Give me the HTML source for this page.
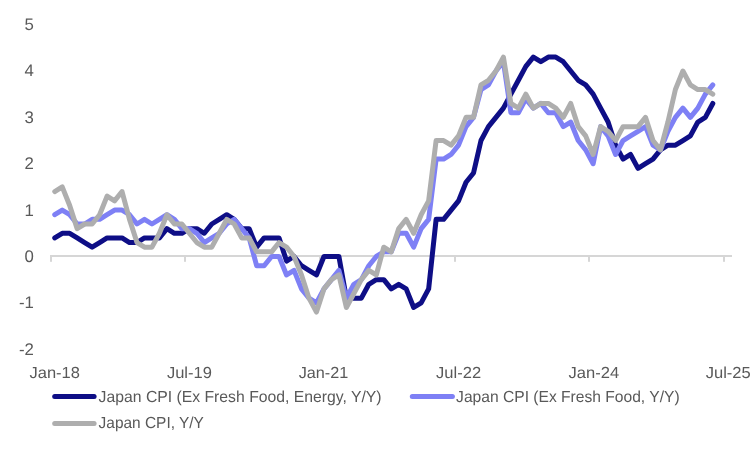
<!DOCTYPE html>
<html lang="en">
<head>
<meta charset="utf-8">
<title>Japan CPI</title>
<style>
html,body{margin:0;padding:0;background:#fff;}
body{width:750px;height:450px;overflow:hidden;}
#chart{width:750px;height:450px;will-change:transform;}
svg{display:block;}
text{text-rendering:geometricPrecision;}
</style>
</head>
<body>
<div id="chart">
<svg width="750" height="450" viewBox="0 0 750 450">
<rect width="750" height="450" fill="#ffffff"/>
<g fill="#d6d6d6">
<rect x="50" y="255" width="682" height="2"/>
<rect x="50" y="257" width="2" height="4.8"/>
<rect x="184" y="257" width="2" height="4.8"/>
<rect x="319" y="257" width="2" height="4.8"/>
<rect x="454" y="257" width="2" height="4.8"/>
<rect x="588" y="257" width="2" height="4.8"/>
<rect x="723" y="257" width="2" height="4.8"/>
</g>
<g font-family="'Liberation Sans', sans-serif" font-size="16.8" fill="#595959" text-anchor="end">
<text x="33.9" y="29.85">5</text>
<text x="33.9" y="76.29">4</text>
<text x="33.9" y="122.73">3</text>
<text x="33.9" y="169.17">2</text>
<text x="33.9" y="215.61">1</text>
<text x="33.9" y="262.05">0</text>
<text x="33.9" y="308.49">-1</text>
<text x="33.9" y="354.93">-2</text>
</g>
<g font-family="'Liberation Sans', sans-serif" font-size="16" fill="#595959">
<text x="29.5" y="378.4" textLength="50.4" lengthAdjust="spacingAndGlyphs">Jan-18</text>
<text x="166.9" y="378.4" textLength="45.0" lengthAdjust="spacingAndGlyphs">Jul-19</text>
<text x="298.7" y="378.4" textLength="49.6" lengthAdjust="spacingAndGlyphs">Jan-21</text>
<text x="436.1" y="378.4" textLength="45.0" lengthAdjust="spacingAndGlyphs">Jul-22</text>
<text x="568.6" y="378.4" textLength="50.6" lengthAdjust="spacingAndGlyphs">Jan-24</text>
<text x="705.7" y="378.4" textLength="45.0" lengthAdjust="spacingAndGlyphs">Jul-25</text>
</g>
<g fill="none" stroke-width="5.0" stroke-linejoin="round" stroke-linecap="round">
<polyline stroke="#0e0e86" points="54.74,237.91 62.22,233.27 69.69,233.27 77.17,237.91 84.65,242.54 92.13,247.18 99.61,242.54 107.09,237.91 114.56,237.91 122.04,237.91 129.52,242.54 137.00,242.54 144.47,237.91 151.95,237.91 159.43,237.91 166.91,228.63 174.39,233.27 181.87,233.27 189.34,228.63 196.82,228.63 204.30,233.27 211.78,224.00 219.25,219.36 226.73,214.73 234.21,219.36 241.69,228.63 249.17,228.63 256.64,247.18 264.12,237.91 271.60,237.91 279.08,237.91 286.56,261.09 294.03,256.45 301.51,265.72 308.99,270.36 316.47,274.99 323.95,256.45 331.43,256.45 338.90,256.45 346.38,298.17 353.86,298.17 361.34,298.17 368.81,284.27 376.29,279.63 383.77,279.63 391.25,288.90 398.73,284.27 406.20,288.90 413.68,307.45 421.16,302.81 428.64,288.90 436.12,219.36 443.59,219.36 451.07,210.09 458.55,200.82 466.03,182.27 473.51,173.00 480.99,140.55 488.46,126.64 495.94,117.37 503.42,108.10 510.90,94.19 518.38,80.28 525.85,66.37 533.33,57.10 540.81,61.74 548.29,57.10 555.76,57.10 563.24,61.74 570.72,71.01 578.20,80.28 585.68,84.92 593.15,94.19 600.63,108.10 608.11,122.01 615.59,145.19 623.07,159.09 630.54,154.46 638.02,168.37 645.50,163.73 652.98,159.09 660.46,149.82 667.93,145.19 675.41,145.19 682.89,140.55 690.37,135.91 697.85,122.01 705.32,117.37 712.80,103.46"/>
<polyline stroke="#7e80f5" points="54.74,214.73 62.22,210.09 69.69,214.73 77.17,224.00 84.65,224.00 92.13,219.36 99.61,219.36 107.09,214.73 114.56,210.09 122.04,210.09 129.52,214.73 137.00,224.00 144.47,219.36 151.95,224.00 159.43,219.36 166.91,214.73 174.39,219.36 181.87,228.63 189.34,228.63 196.82,233.27 204.30,242.54 211.78,237.91 219.25,233.27 226.73,224.00 234.21,219.36 241.69,228.63 249.17,237.91 256.64,265.72 264.12,265.72 271.60,256.45 279.08,256.45 286.56,274.99 294.03,270.36 301.51,288.90 308.99,298.17 316.47,302.81 323.95,288.90 331.43,279.63 338.90,270.36 346.38,298.17 353.86,284.27 361.34,279.63 368.81,265.72 376.29,256.45 383.77,251.81 391.25,251.81 398.73,233.27 406.20,233.27 413.68,247.18 421.16,228.63 428.64,219.36 436.12,159.09 443.59,159.09 451.07,154.46 458.55,145.19 466.03,126.64 473.51,117.37 480.99,89.55 488.46,84.92 495.94,71.01 503.42,61.74 510.90,112.73 518.38,112.73 525.85,98.83 533.33,108.10 540.81,103.46 548.29,112.73 555.76,112.73 563.24,126.64 570.72,122.01 578.20,140.55 585.68,149.82 593.15,163.73 600.63,126.64 608.11,135.91 615.59,154.46 623.07,140.55 630.54,135.91 638.02,131.28 645.50,126.64 652.98,145.19 660.46,149.82 667.93,131.28 675.41,117.37 682.89,108.10 690.37,117.37 697.85,108.10 705.32,94.19 712.80,84.92"/>
<polyline stroke="#aeaeae" points="54.74,191.55 62.22,186.91 69.69,205.45 77.17,228.63 84.65,224.00 92.13,224.00 99.61,214.73 107.09,196.18 114.56,200.82 122.04,191.55 129.52,219.36 137.00,242.54 144.47,247.18 151.95,247.18 159.43,233.27 166.91,214.73 174.39,224.00 181.87,224.00 189.34,233.27 196.82,242.54 204.30,247.18 211.78,247.18 219.25,233.27 226.73,219.36 234.21,224.00 241.69,237.91 249.17,237.91 256.64,251.81 264.12,251.81 271.60,251.81 279.08,242.54 286.56,247.18 294.03,256.45 301.51,274.99 308.99,298.17 316.47,312.08 323.95,288.90 331.43,279.63 338.90,274.99 346.38,307.45 353.86,293.54 361.34,279.63 368.81,270.36 376.29,274.99 383.77,247.18 391.25,251.81 398.73,228.63 406.20,219.36 413.68,233.27 421.16,214.73 428.64,200.82 436.12,140.55 443.59,140.55 451.07,145.19 458.55,135.91 466.03,117.37 473.51,117.37 480.99,84.92 488.46,80.28 495.94,71.01 503.42,57.10 510.90,103.46 518.38,108.10 525.85,94.19 533.33,108.10 540.81,103.46 548.29,103.46 555.76,108.10 563.24,117.37 570.72,103.46 578.20,126.64 585.68,135.91 593.15,154.46 600.63,126.64 608.11,131.28 615.59,140.55 623.07,126.64 630.54,126.64 638.02,126.64 645.50,117.37 652.98,140.55 660.46,149.82 667.93,122.01 675.41,89.55 682.89,71.01 690.37,84.92 697.85,89.55 705.32,89.55 712.80,94.19"/>
<line stroke="#0e0e86" x1="54.7" y1="396.5" x2="94.1" y2="396.5"/>
<line stroke="#7e80f5" x1="412.3" y1="396.5" x2="452.4" y2="396.5"/>
<line stroke="#aeaeae" x1="54.7" y1="423.5" x2="94.1" y2="423.5"/>
</g>
<g font-family="'Liberation Sans', sans-serif" font-size="16" fill="#595959">
<text x="98.6" y="401.5" textLength="283" lengthAdjust="spacingAndGlyphs">Japan CPI (Ex Fresh Food, Energy, Y/Y)</text>
<text x="456.1" y="401.5" textLength="223.5" lengthAdjust="spacingAndGlyphs">Japan CPI (Ex Fresh Food, Y/Y)</text>
<text x="98.6" y="428.4" textLength="105.3" lengthAdjust="spacingAndGlyphs">Japan CPI, Y/Y</text>
</g>
</svg>
</div>
</body>
</html>
